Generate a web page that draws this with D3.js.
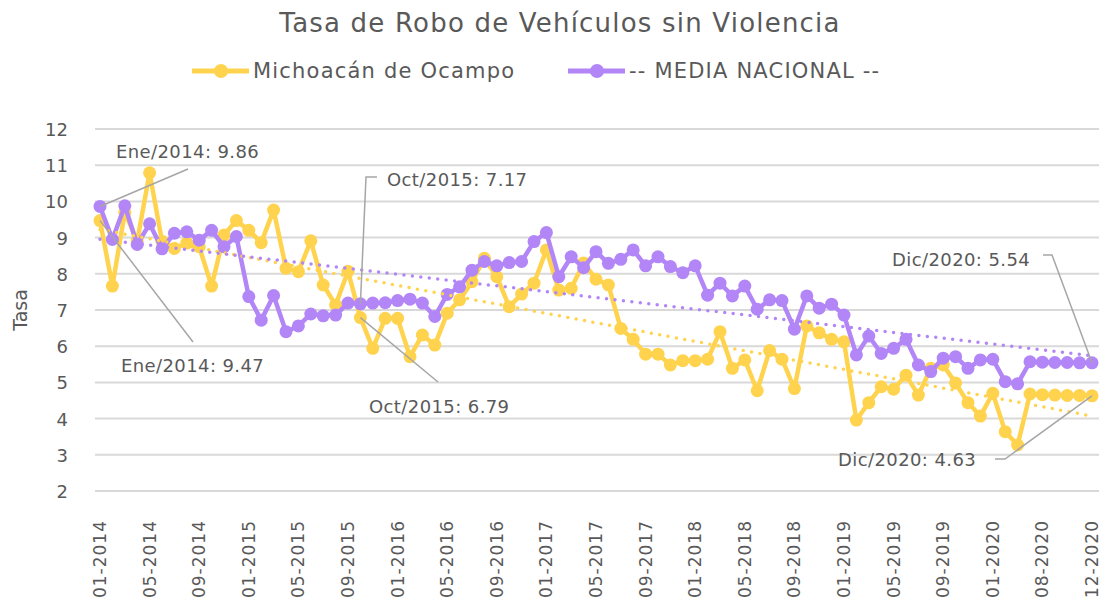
<!DOCTYPE html>
<html>
<head>
  <meta charset="UTF-8">
  <style>
body { margin: 0; background: #fff; }
text { font-family: 'DejaVu Sans', sans-serif; fill: #595959; }
  </style>
</head>
<body>
<svg id="chart"></svg>
<script src="https://d3js.org/d3.v7.min.js"></script>
<script>

// months shown on the x axis (2020 has gaps in the source data)
const months = [
  "01-2014","02-2014","03-2014","04-2014","05-2014","06-2014","07-2014","08-2014","09-2014","10-2014","11-2014","12-2014",
  "01-2015","02-2015","03-2015","04-2015","05-2015","06-2015","07-2015","08-2015","09-2015","10-2015","11-2015","12-2015",
  "01-2016","02-2016","03-2016","04-2016","05-2016","06-2016","07-2016","08-2016","09-2016","10-2016","11-2016","12-2016",
  "01-2017","02-2017","03-2017","04-2017","05-2017","06-2017","07-2017","08-2017","09-2017","10-2017","11-2017","12-2017",
  "01-2018","02-2018","03-2018","04-2018","05-2018","06-2018","07-2018","08-2018","09-2018","10-2018","11-2018","12-2018",
  "01-2019","02-2019","03-2019","04-2019","05-2019","06-2019","07-2019","08-2019","09-2019","10-2019","11-2019","12-2019",
  "01-2020","02-2020","03-2020","04-2020","08-2020","09-2020","10-2020","11-2020","12-2020"
];

const michoacan = [
  9.47, 7.66, 9.7, 8.9, 10.79, 8.9, 8.7, 8.85, 8.75, 7.66, 9.07, 9.47,
  9.2, 8.86, 9.76, 8.15, 8.06, 8.91, 7.69, 7.14, 8.07, 6.79, 5.94, 6.77,
  6.77, 5.71, 6.31, 6.03, 6.91, 7.28, 7.78, 8.43, 7.92, 7.09, 7.44, 7.74,
  8.66, 7.55, 7.6, 8.3, 7.85, 7.69, 6.49, 6.19, 5.78, 5.78, 5.48, 5.6,
  5.6, 5.64, 6.4, 5.39, 5.62, 4.77, 5.88, 5.64, 4.83, 6.56, 6.37, 6.19,
  6.12, 3.96, 4.44, 4.88, 4.81, 5.2, 4.65, 5.39, 5.48, 4.98, 4.44, 4.07,
  4.7, 3.64, 3.27, 4.68, 4.66, 4.65, 4.64, 4.64, 4.63
];

const mediaNacional = [
  9.86, 8.95, 9.88, 8.81, 9.38, 8.69, 9.12, 9.16, 8.93, 9.2, 8.75, 9.03,
  7.37, 6.72, 7.4, 6.4, 6.56, 6.89, 6.84, 6.86, 7.19, 7.17, 7.19, 7.2,
  7.26, 7.3, 7.19, 6.82, 7.43, 7.64, 8.1, 8.34, 8.22, 8.31, 8.34, 8.89,
  9.14, 7.92, 8.47, 8.17, 8.61, 8.29, 8.4, 8.66, 8.22, 8.47, 8.2, 8.03,
  8.22, 7.41, 7.74, 7.39, 7.66, 7.02, 7.28, 7.26, 6.47, 7.39, 7.05, 7.16,
  6.86, 5.76, 6.28, 5.8, 5.94, 6.19, 5.48, 5.3, 5.67, 5.71, 5.39, 5.62,
  5.64, 5.02, 4.96, 5.57, 5.56, 5.55, 5.55, 5.54, 5.54
];

const yTicks = [2, 3, 4, 5, 6, 7, 8, 9, 10, 11, 12];

const width = 1105, height = 607;
const svg = d3.select("#chart").attr("width", width).attr("height", height);

const x = d3.scalePoint().domain(months).range([100, 1092]);
const y = d3.scaleLinear().domain([2, 12]).range([491, 129]);

const yellow = "#FFD34E", purple = "#B386F7";

// title
svg.append("text")
  .attr("x", 560).attr("y", 32)
  .attr("text-anchor", "middle")
  .style("font-size", "26px")
  .style("letter-spacing", "1.2px")
  .text("Tasa de Robo de Vehículos sin Violencia");

// legend
let legend = [
  {name: "Michoacán de Ocampo", color: yellow, x: 192},
  {name: "-- MEDIA NACIONAL --", color: purple, x: 568}
];
let lg = svg.append("g").selectAll("g").data(legend).enter().append("g");
lg.append("line")
  .attr("x1", d => d.x).attr("x2", d => d.x + 57)
  .attr("y1", 71).attr("y2", 71)
  .style("stroke", d => d.color).style("stroke-width", 5);
lg.append("circle")
  .attr("cx", d => d.x + 29).attr("cy", 71).attr("r", 7)
  .style("fill", d => d.color);
lg.append("text")
  .attr("x", d => d.x + 61).attr("y", 78)
  .style("font-size", "21px")
  .style("letter-spacing", "1.2px")
  .text(d => d.name);

// gridlines
svg.append("g").selectAll("line")
  .data(yTicks).enter().append("line")
  .attr("x1", 95).attr("x2", 1099)
  .attr("y1", d => y(d)).attr("y2", d => y(d))
  .style("stroke", "#d9d9d9").style("stroke-width", 2);

// y axis labels
svg.append("g").selectAll("text")
  .data(yTicks).enter().append("text")
  .attr("x", 68).attr("y", d => y(d) + 7)
  .attr("text-anchor", "end")
  .style("font-size", "18px")
  .text(d => d);

svg.append("text")
  .attr("transform", "translate(27,310) rotate(-90)")
  .attr("text-anchor", "middle")
  .style("font-size", "19px")
  .text("Tasa");

// x axis labels, every 4th point
svg.append("g").selectAll("text")
  .data(months.filter((d, i) => i % 4 == 0)).enter().append("text")
  .attr("transform", d => "translate(" + (x(d) + 6) + ",520) rotate(-90)")
  .attr("text-anchor", "end")
  .style("font-size", "17px")
  .style("letter-spacing", "1px")
  .text(d => d);

// series
let series = [
  {values: michoacan, color: yellow},
  {values: mediaNacional, color: purple}
];

let line = d3.line().x((d, i) => x(months[i])).y(d => y(d));

series.forEach(s => {
  let g = svg.append("g");
  g.append("path")
    .attr("d", line(s.values))
    .style("fill", "none")
    .style("stroke", s.color)
    .style("stroke-width", 4.5)
    .style("stroke-linejoin", "round");
  g.selectAll("circle")
    .data(s.values).enter().append("circle")
    .attr("cx", (d, i) => x(months[i]))
    .attr("cy", d => y(d))
    .attr("r", 6.5)
    .style("fill", s.color);
});

// linear trendlines (dotted)
series.forEach(s => {
  let n = s.values.length;
  let mx = d3.mean(s.values, (d, i) => i), my = d3.mean(s.values);
  let b = d3.sum(s.values, (d, i) => (i - mx) * (d - my)) / d3.sum(s.values, (d, i) => (i - mx) * (i - mx));
  let a = my - b * mx;
  svg.append("line")
    .attr("x1", x(months[0])).attr("y1", y(a))
    .attr("x2", x(months[n - 1])).attr("y2", y(a + b * (n - 1)))
    .style("stroke", s.color)
    .style("stroke-width", 3.5)
    .style("stroke-dasharray", "0 8.5")
    .style("stroke-linecap", "round");
});

// data labels with leader lines
let last = months.length - 1;
let callouts = [
  {i: 0, v: mediaNacional[0], name: "Ene/2014", tx: 116, ty: 158, path: [[188, 169]]},
  {i: 0, v: michoacan[0], name: "Ene/2014", tx: 121, ty: 372, path: [[193, 342]]},
  {i: 21, v: mediaNacional[21], name: "Oct/2015", tx: 387, ty: 186, path: [[366, 177], [377, 177]]},
  {i: 21, v: michoacan[21], name: "Oct/2015", tx: 369, ty: 413, path: [[438, 382]]},
  {i: last, v: mediaNacional[last], name: "Dic/2020", tx: 892, ty: 266, path: [[1052, 255], [1043, 255]]},
  {i: last, v: michoacan[last], name: "Dic/2020", tx: 838, ty: 466, path: [[1005, 459], [995, 459]]}
];

callouts.forEach(c => {
  let pts = [[x(months[c.i]), y(c.v)]].concat(c.path);
  svg.append("path")
    .attr("d", d3.line()(pts))
    .style("fill", "none")
    .style("stroke", "#a6a6a6")
    .style("stroke-width", 1.5);
  svg.append("text")
    .attr("x", c.tx).attr("y", c.ty)
    .style("font-size", "18px")
    .style("letter-spacing", "0.4px")
    .text(c.name + ": " + c.v.toFixed(2));
});

</script>
</body>
</html>
